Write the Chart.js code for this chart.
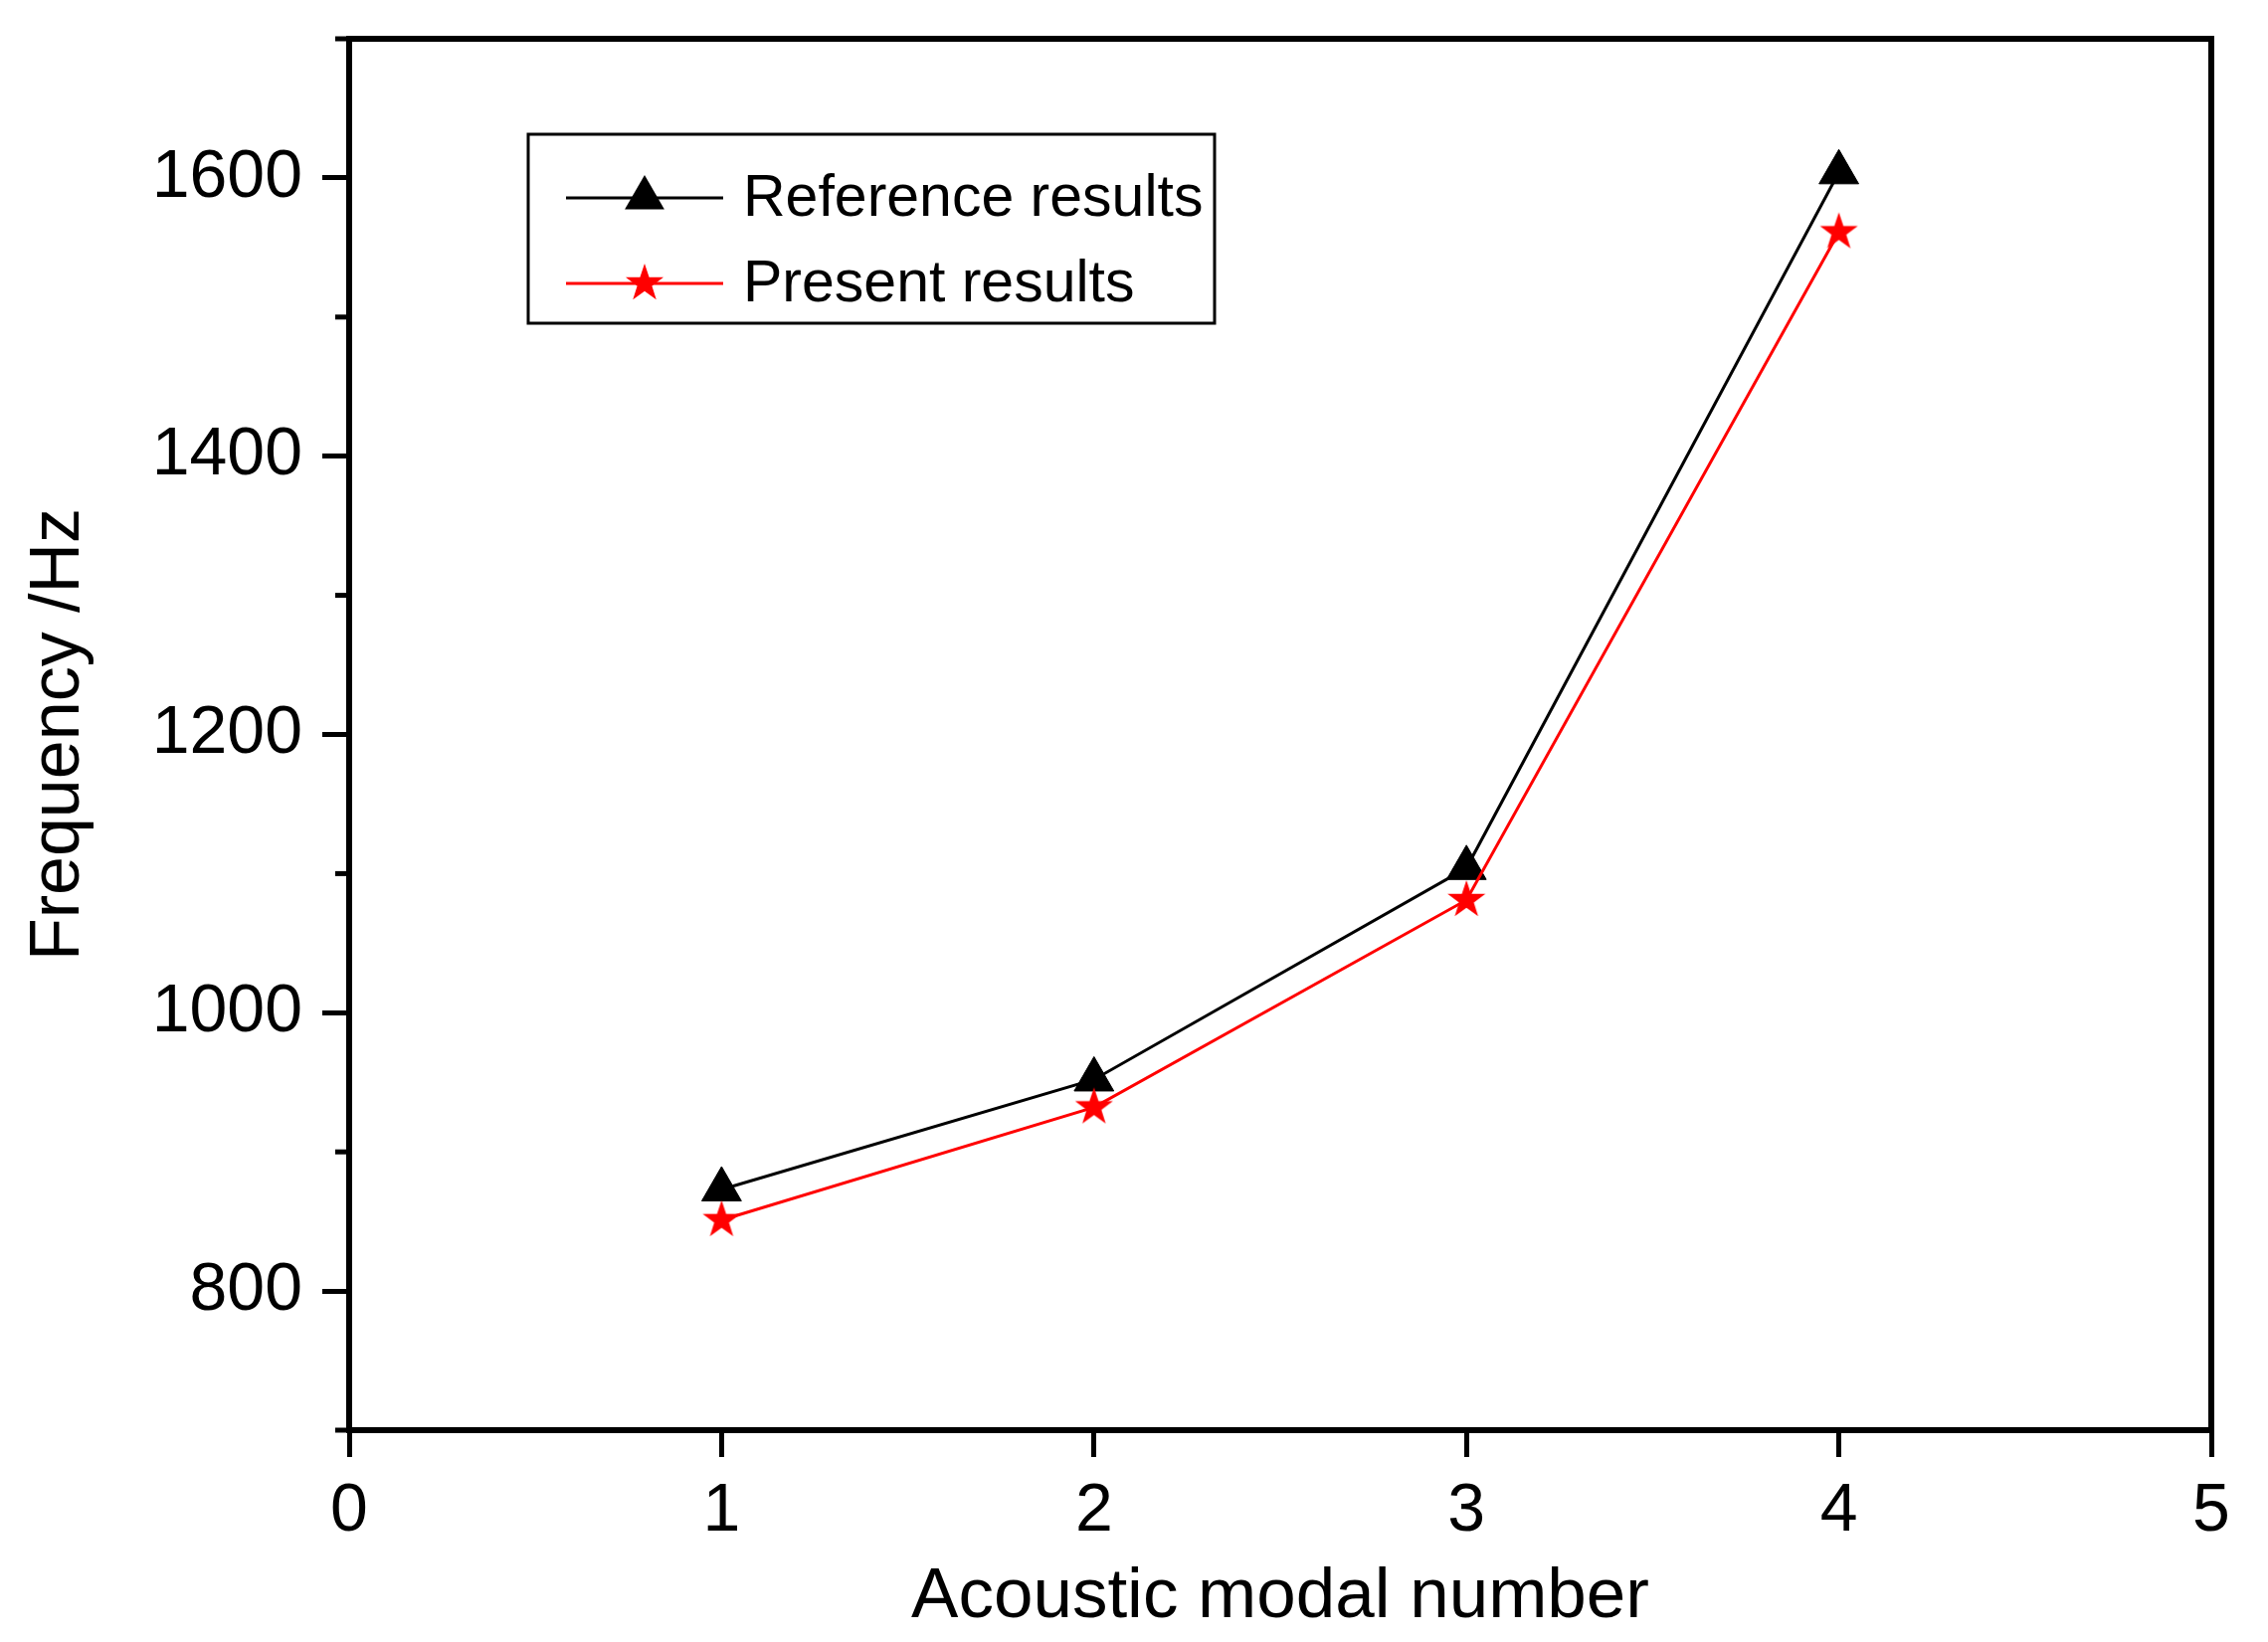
<!DOCTYPE html>
<html>
<head>
<meta charset="utf-8">
<script src="https://cdn.jsdelivr.net/npm/chart.js@4.4.1/dist/chart.umd.min.js"></script>
<style>
  html, body { margin: 0; padding: 0; background: #fff; }
  #wrap { width: 2280px; height: 1651px; }
</style>
</head>
<body>
<div id="wrap"><canvas id="modalChart"></canvas></div>
<script>
// values
const modes = [1, 2, 3, 4];
const referenceResults = [873, 952, 1104, 1604];
const presentResults = [851, 932, 1081, 1561];
const xTicks = [0, 1, 2, 3, 4, 5];
const yMajorTicks = [800, 1000, 1200, 1400, 1600];
const yMinorTicks = [700, 900, 1100, 1300, 1500, 1700];

const FONT = '"Liberation Sans", Arial, sans-serif';

// filled five-pointed star used as marker
function makeStar(outer, inner, color) {
  const size = Math.ceil(outer * 2 + 4);
  const c = document.createElement("canvas");
  c.width = size;
  c.height = size;
  const g = c.getContext("2d");
  const cx = size / 2, cy = size / 2;
  g.beginPath();
  for (let i = 0; i < 10; i++) {
    const r = i % 2 === 0 ? outer : inner;
    const a = -Math.PI / 2 + (i * Math.PI) / 5;
    const px = cx + r * Math.cos(a), py = cy + r * Math.sin(a);
    if (i === 0) g.moveTo(px, py); else g.lineTo(px, py);
  }
  g.closePath();
  g.fillStyle = color;
  g.fill();
  return c;
}
const starImg = makeStar(20, 7.8, "#ff0000");

function drawTriangle(ctx, x, y, r, color) {
  ctx.beginPath();
  for (let i = 0; i < 3; i++) {
    const a = (i * 2 * Math.PI) / 3;
    const px = x + Math.sin(a) * r, py = y - Math.cos(a) * r;
    if (i === 0) ctx.moveTo(px, py); else ctx.lineTo(px, py);
  }
  ctx.closePath();
  ctx.fillStyle = color;
  ctx.fill();
}

// frame, minor ticks on y and the boxed legend
const framePlugin = {
  id: "frame",
  afterDraw(chart) {
    const { ctx, chartArea: a } = chart;
    const y = chart.scales.y;
    ctx.save();
    ctx.strokeStyle = "#000";
    ctx.lineWidth = 5;
    yMinorTicks.forEach((v) => {
      const py = y.getPixelForValue(v);
      ctx.beginPath();
      ctx.moveTo(a.left - 14, py);
      ctx.lineTo(a.left, py);
      ctx.stroke();
    });
    ctx.lineWidth = 6;
    ctx.lineJoin = "miter";
    ctx.strokeRect(a.left, a.top, a.right - a.left, a.bottom - a.top);

    // legend
    const box = { x: 531, y: 135, w: 690, h: 190 };
    ctx.lineWidth = 3;
    ctx.strokeRect(box.x, box.y, box.w, box.h);
    const rows = [199, 285];
    chart.data.datasets.forEach((ds, i) => {
      const ly = rows[i];
      ctx.strokeStyle = ds.borderColor;
      ctx.lineWidth = ds.borderWidth;
      ctx.beginPath();
      ctx.moveTo(569, ly);
      ctx.lineTo(727, ly);
      ctx.stroke();
      if (ds.pointStyle === "triangle") {
        drawTriangle(ctx, 648, ly, ds.pointRadius, ds.pointBackgroundColor);
      } else {
        const img = ds.pointStyle;
        ctx.drawImage(img, 648 - img.width / 2, ly - img.height / 2);
      }
      ctx.fillStyle = "#000";
      ctx.font = "59px " + FONT;
      ctx.textBaseline = "middle";
      ctx.textAlign = "left";
      ctx.fillText(ds.label, 747, ly + 2);
    });
    ctx.restore();
  },
};

const ctxModal = document.getElementById("modalChart").getContext("2d");
const modalChart = new Chart(ctxModal, {
  type: "line",
  data: {
    datasets: [
      {
        label: "Reference results",
        data: modes.map((m, i) => ({ x: m, y: referenceResults[i] })),
        borderColor: "#000000",
        borderWidth: 3,
        pointStyle: "triangle",
        pointRadius: 23,
        pointBackgroundColor: "#000000",
        pointBorderColor: "#000000",
        pointBorderWidth: 1,
        tension: 0,
        order: 1,
      },
      {
        label: "Present results",
        data: modes.map((m, i) => ({ x: m, y: presentResults[i] })),
        borderColor: "#ff0000",
        borderWidth: 3,
        pointStyle: starImg,
        pointRadius: 20,
        pointBackgroundColor: "#ff0000",
        pointBorderColor: "#ff0000",
        tension: 0,
        order: 0,
      },
    ],
  },
  options: {
    responsive: true,
    maintainAspectRatio: false,
    devicePixelRatio: 1,
    animation: false,
    layout: { padding: { top: 39, right: 57, left: 0, bottom: 0 } },
    plugins: {
      legend: { display: false },
      tooltip: { enabled: false },
    },
    scales: {
      x: {
        type: "linear",
        min: 0,
        max: 5,
        afterBuildTicks: (s) => { s.ticks = xTicks.map((v) => ({ value: v })); },
        afterFit: (s) => { s.height = 213; s.paddingLeft = 0; s.paddingRight = 0; },
        border: { display: false },
        grid: { drawOnChartArea: false, drawTicks: true, tickLength: 27, lineWidth: 5, color: "#000" },
        ticks: {
          color: "#000",
          font: { family: FONT, size: 68 },
          padding: 14,
          maxRotation: 0,
          callback: (v) => String(v),
        },
        title: {
          display: true,
          text: "Acoustic modal number",
          color: "#000",
          font: { family: FONT, size: 71 },
          padding: { top: 0, bottom: 2 },
        },
      },
      y: {
        type: "linear",
        min: 700,
        max: 1700,
        afterBuildTicks: (s) => { s.ticks = yMajorTicks.map((v) => ({ value: v })); },
        afterFit: (s) => { s.width = 351; s.paddingTop = 0; s.paddingBottom = 0; },
        border: { display: false },
        grid: { drawOnChartArea: false, drawTicks: true, tickLength: 27, lineWidth: 5, color: "#000" },
        ticks: {
          color: "#000",
          font: { family: FONT, size: 68 },
          padding: 20,
          callback: (v) => String(v),
        },
        title: {
          display: true,
          text: "Frequency /Hz",
          color: "#000",
          font: { family: FONT, size: 70 },
          padding: { top: 18, bottom: 0 },
        },
      },
    },
  },
  plugins: [framePlugin],
});
</script>
</body>
</html>
